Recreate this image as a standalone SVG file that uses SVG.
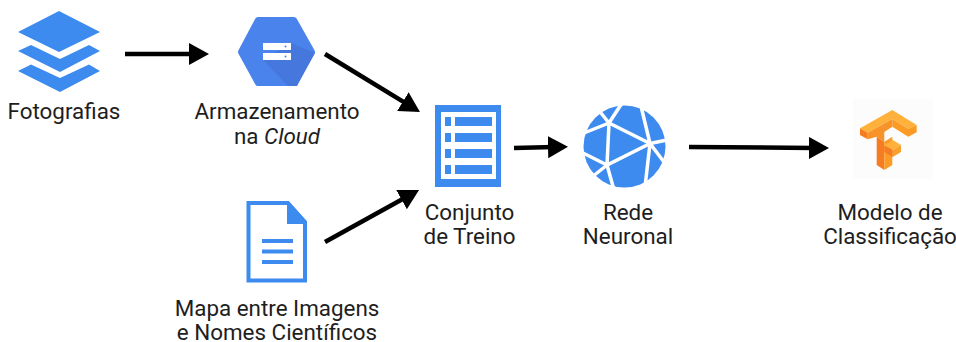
<svg xmlns="http://www.w3.org/2000/svg" width="956" height="342" viewBox="0 0 956 342">
<style>
text{font-family:Roboto,"Liberation Sans",sans-serif;font-size:22.400px;fill:#1e1e1e;text-anchor:middle}
.b{fill:#3d8bef}
.w{fill:#fff}
.n{stroke:#fff;stroke-width:3.500;fill:none;stroke-linecap:round}
.c{stroke:#000;stroke-width:4.500;fill:none}
.h{stroke:#3d8bef;stroke-width:4;fill:none}
</style>
<defs><marker id="a" markerUnits="userSpaceOnUse" markerWidth="22" markerHeight="24" refX="6" refY="11" orient="auto"><path d="M0 0L20 11L0 22Z"/></marker></defs>
<rect width="956" height="342" fill="#fff"/>
<g id="fotografias">
<path class="b" d="M59 11L100 32L59 52L18 32Z"/>
<path class="b" d="M31 45L60 59L89 45L100 51L60 72L18 51Z"/>
<path class="b" d="M31 64.500L60 78L89 64.500L100 71L60 92L18 71Z"/>
<text x="64" y="119">Fotografias</text>
</g>
<g id="armazenamento">
<path fill="#4a83ec" stroke="#4a83ec" stroke-width="6" stroke-linejoin="round" d="M258 20H294L312 52L294 83H258L241 52Z"/>
<path fill="#4577dc" d="M263 60L291 43L315 53L297 86H288Z"/>
<rect class="w" x="263" y="43" width="28" height="7"/><rect class="w" x="263" y="53" width="28" height="7"/>
<circle cx="285.500" cy="46.500" r="1" fill="#4a83ec"/><circle cx="285.500" cy="56.500" r="1" fill="#4a83ec"/>
<text x="277" y="119">Armazenamento</text>
<text x="277" y="144">na <tspan font-style="italic">Cloud</tspan></text>
</g>
<g id="mapa">
<path d="M248.500 203H288L305 222V280.500H248.500Z" fill="#fff" stroke="#3d8bef" stroke-width="4"/>
<path class="b" d="M287 202L307 224H287Z"/>
<path class="h" d="M262 241H293M262 251.500H293M262 262H293"/>
<text x="277" y="316">Mapa entre Imagens</text>
<text x="277" y="340">e Nomes Científicos</text>
</g>
<g id="conjunto">
<rect class="b" x="435" y="105" width="66" height="82"/>
<rect class="w" x="441" y="112" width="55" height="67"/>
<path class="b" d="M445 117h6v9h-6zM455 117h37v9h-37zM445 133h6v9h-6zM455 133h37v9h-37zM445 149h6v9h-6zM455 149h37v9h-37zM445 165h6v9h-6zM455 165h37v9h-37z"/>
<text x="469.500" y="220">Conjunto</text>
<text x="469.500" y="244">de Treino</text>
</g>
<g id="rede">
<circle class="b" cx="624.500" cy="146.500" r="41"/>
<path class="n" d="M609 123L584 133M609 123L622 103M601 113L609 123M609 123L650 143.500L607 165L609 123M650 143.500L640 102M650 143.500L667 140M650 143.500L664 162M650 143.500L645 187M607 165L583 153M607 165L592 177M607 165L614 190"/>
<text x="628" y="220">Rede</text>
<text x="628" y="244">Neuronal</text>
</g>
<g id="modelo">
<rect x="853" y="99" width="80" height="80" fill="#fcfcfc"/>
<path fill="#ffb13b" d="M892.300 110L916.700 125L908.300 129L892.300 119L867.700 132.700L860 128.300Z"/>
<path fill="#fb9b26" d="M892.300 119L908.300 129L916.700 125V132.300L908.300 136.700L892.300 126.700Z"/>
<path fill="#f57c20" d="M860 128.300L867.700 132.700V139.300L860 135Z"/>
<path fill="#f8932a" d="M867.700 132.700L892.300 119V126.700L884.300 132V141.700L876.700 136.700L867.700 139.300Z"/>
<path fill="#f57c20" d="M876.700 136.700L884.300 141.700V170L876.700 165Z"/>
<path fill="#fc9b25" d="M884.300 141.700L892.300 136.700V165L884.300 170Z"/>
<path fill="#ffb13b" d="M884.300 145.500L892.700 140L901 145L892.700 150Z"/>
<path fill="#f9a02b" d="M892.700 150L901 145V152L892.700 157Z"/>
<path fill="#f57c20" d="M884.300 145.500L892.700 150V157L884.300 152Z"/>
<text x="890" y="220">Modelo de</text>
<text x="890" y="244">Classificação</text>
</g>
<g id="connectors">
<path class="c" marker-end="url(#a)" d="M125 54H195"/>
<path class="c" marker-end="url(#a)" d="M325 54L408 104.700"/>
<path class="c" marker-end="url(#a)" d="M325 242L406.800 196.800"/>
<path class="c" marker-end="url(#a)" d="M514 148L554 147"/>
<path class="c" marker-end="url(#a)" d="M689 147L815 148"/>
</g>
</svg>
